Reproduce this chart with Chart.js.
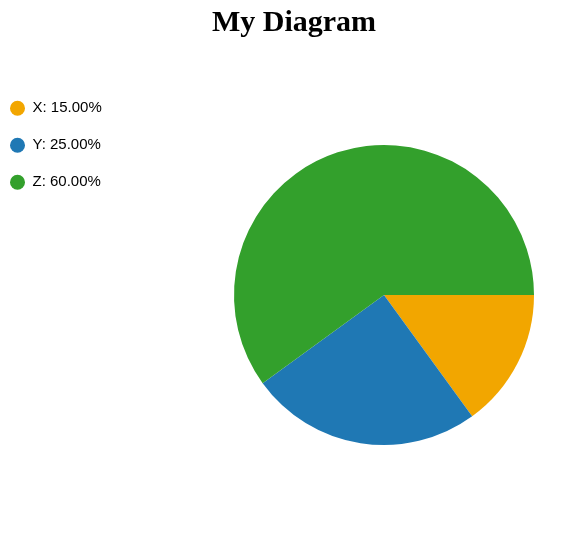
<!DOCTYPE html>
<html>
    <head>
        <title>My Diagram</title>
        <script src="https://cdn.jsdelivr.net/npm/chart.js"></script>
        <style>
            body { margin: 0; background: #fff; }
        </style>
    </head>
    <body>
    <div style="width: 582px; height: 551px;">
    <canvas id="myChart"></canvas>
    </div>

    <script>
        // data
        const labels = ['X', 'Y', 'Z'];
        const values = [15, 25, 60];
        const colors = ['#f2a600', '#1f78b4', '#33a02c'];

        // widen the legend box so the pie sits right of centre
        const legendWidth = {
            id: 'legendWidth',
            afterInit(chart) {
                const fit = chart.legend.fit;
                chart.legend.fit = function () {
                    fit.call(this);
                    this.width = 198;
                };
            }
        };

        const cdata = {
            labels: labels,
            datasets: [{
                data: values,
                backgroundColor: colors,
                borderWidth: 0,
                radius: 150
            }]
        };

        const config = {
            type: 'pie',
            data: cdata,
            plugins: [legendWidth],
            options: {
                responsive: true,
                maintainAspectRatio: false,
                animation: false,
                rotation: 90,
                layout: {
                    padding: { left: -12, right: -18, top: 0, bottom: 10 }
                },
                plugins: {
                    title: {
                        display: true,
                        text: 'My Diagram',
                        color: '#000',
                        font: { family: 'Liberation Serif', size: 30, weight: 'bold' },
                        padding: { top: 5, bottom: 8 }
                    },
                    legend: {
                        position: 'left',
                        align: 'start',
                        title: {
                            display: true,
                            text: ' ',
                            font: { size: 14 },
                            padding: { top: 62, bottom: 0 }
                        },
                        labels: {
                            usePointStyle: true,
                            pointStyle: 'circle',
                            pointStyleWidth: 15,
                            boxHeight: 10.6,
                            padding: 22,
                            color: '#000',
                            font: { family: 'Liberation Sans', size: 15 },
                            generateLabels: function (chart) {
                                const items = Chart.controllers.pie.overrides.plugins.legend.labels.generateLabels(chart);
                                items.forEach(function (it, i) {
                                    it.text = labels[i] + ': ' + values[i].toFixed(2) + '%';
                                });
                                return items;
                            }
                        }
                    },
                    tooltip: { enabled: false }
                }
            }
        };

        const ctx = document.getElementById('myChart').getContext('2d');
        const myChart = new Chart(ctx, config);
    </script>
    </body>
</html>
